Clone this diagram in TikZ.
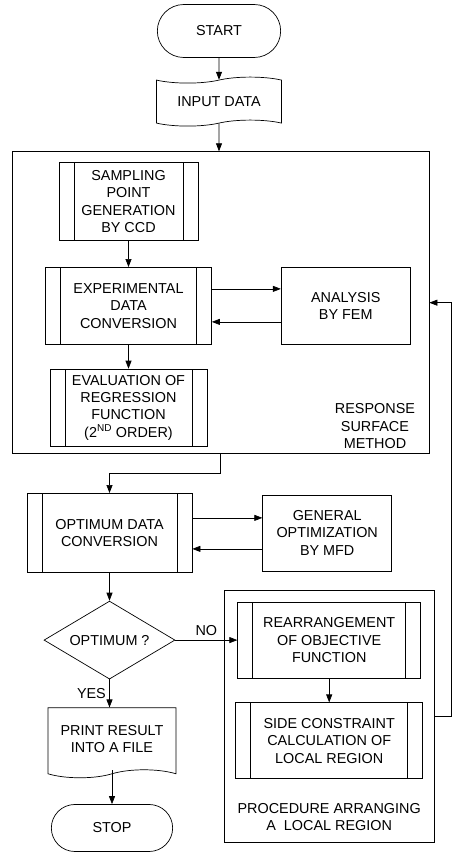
\documentclass[tikz,border=0pt]{standalone}
\usepackage{fontspec}
\setmainfont{Liberation Sans}
\usepackage{tikz}
\usetikzlibrary{positioning}
\usetikzlibrary{shapes.misc}
\usetikzlibrary{shapes.symbols}
\usetikzlibrary{shapes.geometric}
\usetikzlibrary{fit}
\usetikzlibrary{arrows.meta}

\begin{document}
\begin{tikzpicture}[x=1pt, y=1pt, line width=0.7pt,
        font=\fontsize{14.4}{17.3}\selectfont,
        term/.style={draw, rounded rectangle, minimum width=130pt, minimum height=53pt},
        io/.style={draw, tape, tape bend height=6pt, minimum width=125pt, minimum height=49pt},
        printout/.style={draw, tape, tape bend top=none, tape bend height=8pt, align=center, minimum width=128pt, minimum height=70pt},
        procbox/.style={draw, rectangle, align=center, minimum height=77pt},
        predef/.style={procbox, path picture={
                \draw ([xshift=15pt]path picture bounding box.north west) -- ([xshift=15pt]path picture bounding box.south west);
                \draw ([xshift=-15pt]path picture bounding box.north east) -- ([xshift=-15pt]path picture bounding box.south east);}},
        decision/.style={draw, diamond, aspect=1.7, inner sep=0pt, minimum width=131pt, minimum height=78pt},
        groupbox/.style={draw, rectangle, inner sep=0pt},
        arr/.style={-{Triangle[length=8pt,width=6pt]}}]
        \useasboundingbox (0,0) rectangle (459,-866);

        % nodes (main column)
        \node[term] (start) at (219,-31) {START};
        \node[io, below=22pt of start] (input) {INPUT DATA};
        \node[groupbox, below=28pt of input, xshift=1.5pt, minimum width=417pt, minimum height=302pt] (rsm) {};
        \node[predef, below=11pt of rsm.north, xshift=-92pt, minimum width=139pt, minimum height=78pt] (sampling) {SAMPLING\\POINT\\GENERATION\\BY CCD};
        \node[predef, below=26pt of sampling, minimum width=166pt] (exper) {EXPERIMENTAL\\DATA\\CONVERSION};
        \node[procbox, right=69pt of exper, minimum width=129pt] (fem) {ANALYSIS\\BY FEM};
        \node[predef, below=24pt of exper, minimum width=157pt] (regress) {EVALUATION OF\\REGRESSION\\FUNCTION\\(2\textsuperscript{ND} ORDER)};
        \node[align=center, inner sep=0pt, above left=5pt and 14pt of rsm.south east] (rsmlabel) {RESPONSE\\SURFACE\\METHOD};
        \node[predef, below=39pt of rsm.south, xshift=-111pt, minimum width=165pt, minimum height=79pt] (optconv) {OPTIMUM DATA\\CONVERSION};
        \node[procbox, right=70pt of optconv, minimum width=129pt, minimum height=76pt] (mfd) {GENERAL\\OPTIMIZATION\\BY MFD};
        \node[decision, below=28pt of optconv] (optq) {OPTIMUM ?};
        \node[printout, below=28pt of optq, xshift=2.5pt] (result) {PRINT RESULT\\INTO A FILE};
        \node[term, below=34pt of result, minimum width=128pt, minimum height=47pt] (stop) {STOP};

        % nodes (local region)
        \node[predef, right=62pt of optq, minimum width=183pt, minimum height=76pt] (rearr) {REARRANGEMENT\\OF OBJECTIVE\\FUNCTION};
        \node[predef, below=24pt of rearr, minimum width=187pt, minimum height=76pt] (side) {SIDE CONSTRAINT\\CALCULATION OF\\LOCAL REGION};
        \node[align=center, inner sep=0pt, below=24pt of side] (proclabel) {PROCEDURE ARRANGING\\A\ \ LOCAL REGION};
        \node[groupbox, fit=(rearr)(side)(proclabel), inner sep=11pt] (proc) {};

        % edges
        \draw[arr] (start) -- (input);
        \draw[arr] (input) -- (input |- rsm.north);
        \draw[arr] (sampling) -- (exper);
        \draw[arr] ([yshift=17pt]exper.east) -- ([yshift=17pt]exper.east -| fem.west);
        \draw[arr] ([yshift=-16pt]fem.west) -- ([yshift=-16pt]fem.west -| exper.east);
        \draw[arr] (exper) -- (regress);
        \draw[arr] (rsm.south) -- ++(0,-19pt) -| (optconv.north);
        \draw[arr] ([yshift=15pt]optconv.east) -- ([yshift=15pt]optconv.east -| mfd.west);
        \draw[arr] ([yshift=-16pt]mfd.west) -- ([yshift=-16pt]mfd.west -| optconv.east);
        \draw[arr] (optconv) -- (optq);
        \draw[arr] (optq.east) -- node[above=1pt] {NO} (optq.east -| rearr.west);
        \draw[arr] (optq.south) -- node[left, pos=0.5] {YES} (optq.south |- result.north);
        \draw[arr] (result.south) -- (stop.north);
        \draw[arr] (rearr) -- (side);
        \draw[arr] (proc.east) -- ++(17pt,0) |- (rsm.east);
\end{tikzpicture}
\end{document}
